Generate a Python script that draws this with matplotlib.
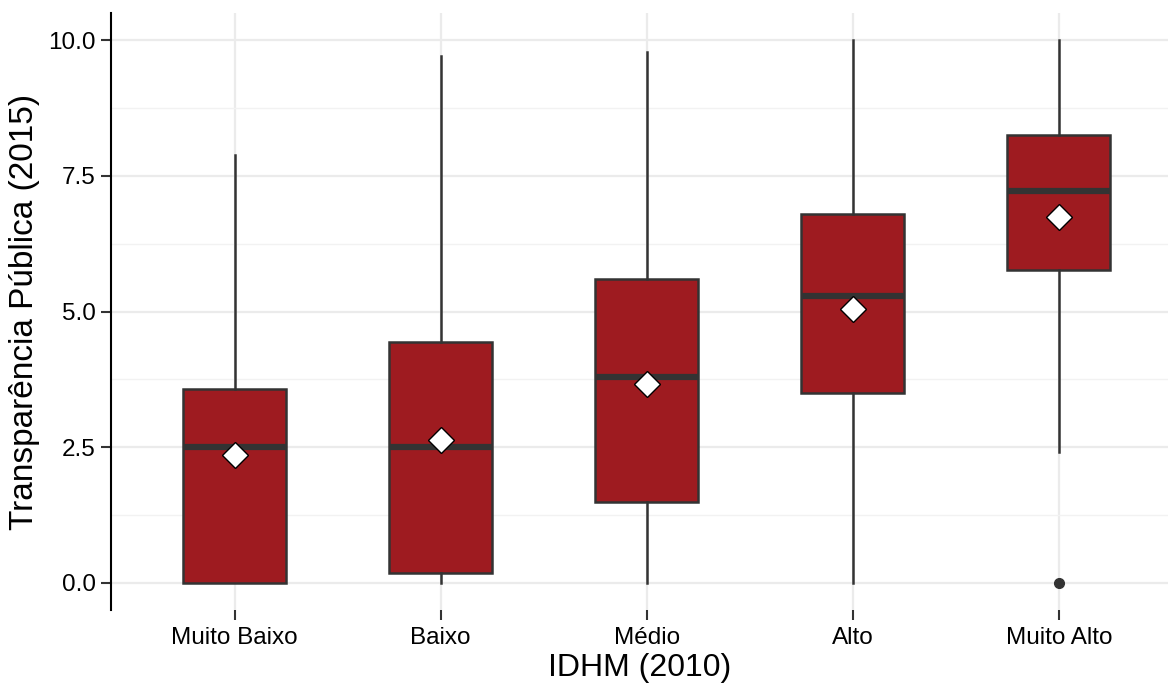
import matplotlib.pyplot as plt
from matplotlib.ticker import MultipleLocator

plt.rcParams['font.family'] = ['Liberation Sans', 'DejaVu Sans']

categories = ["Muito Baixo", "Baixo", "Médio", "Alto", "Muito Alto"]
whislo = [0.0, 0.0, 0.0, 0.0, 2.41]
q1 = [0.0, 0.19, 1.49, 3.50, 5.76]
med = [2.50, 2.50, 3.80, 5.29, 7.22]
q3 = [3.58, 4.43, 5.60, 6.80, 8.25]
whishi = [7.88, 9.70, 9.78, 10.0, 10.0]
means = [2.35, 2.64, 3.67, 5.04, 6.75]
outliers = [[], [], [], [], [0.0]]

stats = []
for i, name in enumerate(categories):
    stats.append(dict(label=name, whislo=whislo[i], q1=q1[i], med=med[i],
                      q3=q3[i], whishi=whishi[i], mean=means[i], fliers=outliers[i]))

fig = plt.figure(figsize=(11.68, 6.87), dpi=100)
ax = fig.add_axes([111 / 1168, 1 - 610 / 687, 1 - 111 / 1168, (610 - 13) / 687])

edge = "#333333"
ax.bxp(stats, positions=range(1, 6), widths=0.5, patch_artist=True,
       showmeans=True, showcaps=False,
       boxprops=dict(facecolor="#9E1B20", edgecolor=edge, linewidth=1.8),
       whiskerprops=dict(color=edge, linewidth=1.8),
       medianprops=dict(color=edge, linewidth=4.5),
       meanprops=dict(marker="D", markerfacecolor="white", markeredgecolor="black",
                      markersize=13, markeredgewidth=1),
       flierprops=dict(marker="o", markerfacecolor=edge, markeredgecolor=edge,
                       markersize=7))

ax.set_xlim(0.4, 5.53)
ax.set_ylim(-0.5, 10.5)
ax.yaxis.set_major_locator(MultipleLocator(2.5))
ax.yaxis.set_minor_locator(MultipleLocator(1.25))
ax.yaxis.set_major_formatter(plt.FuncFormatter(lambda v, p: f"{v:.1f}"))

ax.grid(True, which="major", color="#ebebeb", linewidth=1.6)
ax.grid(True, which="minor", axis="y", color="#f2f2f2", linewidth=1.0)
ax.set_axisbelow(True)

for s in ["top", "right", "bottom"]:
    ax.spines[s].set_visible(False)
ax.spines["left"].set_color("black")
ax.spines["left"].set_linewidth(1.5)

ax.tick_params(axis="y", which="major", length=7, width=1.5, color=edge,
               labelsize=17.5, labelcolor="black", pad=4)
ax.tick_params(axis="y", which="minor", length=0)
ax.tick_params(axis="x", length=7, width=1.5, color=edge, labelsize=17.5,
               labelcolor="black", pad=5)

ax.set_xlabel("IDHM (2010)", fontsize=23, labelpad=3)
ax.set_ylabel("Transparência Pública (2015)", fontsize=24, labelpad=6)

fig.savefig("out.png", dpi=100)
